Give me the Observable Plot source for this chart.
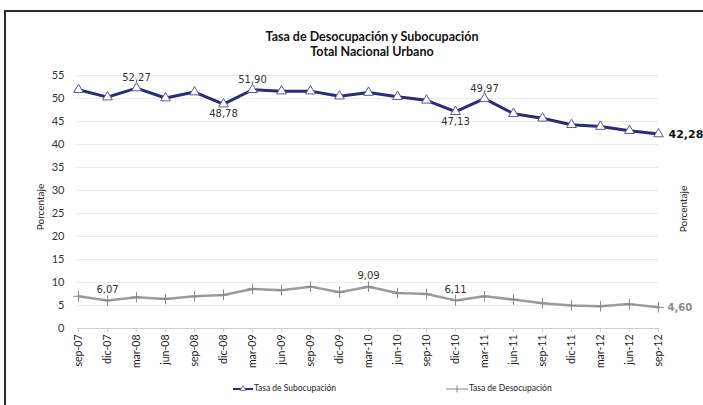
<!DOCTYPE html>
<html><head><meta charset="utf-8">
<script src="https://cdn.jsdelivr.net/npm/d3@7"></script>
<script src="https://cdn.jsdelivr.net/npm/@observablehq/plot@0.6"></script>
<style>
body{margin:0;background:#fff;}
#wrap{position:relative;width:703px;height:405px;overflow:hidden;background:#fff;font-family:Lato,"Liberation Sans",sans-serif;}
#chart{position:absolute;left:0;top:0;}
#frame{position:absolute;left:4px;top:10px;width:760px;height:460px;border-top:2.5px solid #2a2a2a;border-left:2.5px solid #2a2a2a;pointer-events:none;}
#title{position:absolute;left:172px;top:29px;width:400px;text-align:center;font-weight:bold;font-size:12.5px;line-height:15px;color:#111;}
.ylab{position:absolute;width:80px;text-align:center;font-size:10px;line-height:12px;color:#222;transform:rotate(-90deg);}
.leg{position:absolute;display:flex;align-items:center;font-size:8.5px;color:#222;white-space:nowrap;}
.leg svg{margin-right:1px;}
</style></head><body>
<div id="wrap">
  <div id="chart"></div>
  <div id="frame"></div>
  <div id="title">Tasa de Desocupación y Subocupación<br>Total Nacional Urbano</div>
  <div class="ylab" style="left:0px;top:201px;">Porcentaje</div>
  <div class="ylab" style="left:643px;top:203px;">Porcentaje</div>
  <div class="leg" style="left:233px;top:383px;">
    <svg width="20" height="10"><line x1="0" y1="6" x2="20" y2="6" stroke="#2d2a78" stroke-width="2"/><path d="M10,2.5 L13,7.5 L7,7.5 Z" fill="#fff" stroke="#5a57a0" stroke-width="0.8"/></svg>
    <span>Tasa de Subocupación</span>
  </div>
  <div class="leg" style="left:446px;top:383px;">
    <svg width="22" height="10"><line x1="0" y1="6" x2="22" y2="6" stroke="#a0a0a0" stroke-width="1.3"/><line x1="11" y1="2.5" x2="11" y2="9.5" stroke="#888" stroke-width="1"/></svg>
    <span>Tasa de Desocupación</span>
  </div>
</div>
<script>
const periodos = ["sep-07","dic-07","mar-08","jun-08","sep-08","dic-08","mar-09","jun-09","sep-09","dic-09","mar-10","jun-10","sep-10","dic-10","mar-11","jun-11","sep-11","dic-11","mar-12","jun-12","sep-12"];
const subocupacion = [51.9,50.3,52.27,50.1,51.4,48.78,51.90,51.6,51.6,50.5,51.3,50.4,49.6,47.13,49.97,46.7,45.7,44.3,43.9,43.0,42.28];
const desocupacion = [7.0,6.07,6.8,6.4,7.0,7.3,8.6,8.3,9.1,7.9,9.09,7.7,7.5,6.11,7.0,6.3,5.5,5.0,4.85,5.3,4.60];
const yTicks = [0,5,10,15,20,25,30,35,40,45,50,55];
const subEtiquetasArriba = ["mar-08","mar-09","mar-11"];
const subEtiquetasAbajo = ["dic-08","dic-10"];
const desEtiquetasArriba = ["dic-07","mar-10","dic-10"];
const ultimo = "sep-12";

const rows = periodos.map((p, i) => ({p, sub: subocupacion[i], des: desocupacion[i]}));
const fmt = v => v.toFixed(2).replace(".", ",");
const pick = list => rows.filter(d => list.includes(d.p));
const labelFont = "DejaVu Sans";

const chart = Plot.plot({
  width: 703, height: 405,
  marginLeft: 77, marginRight: 45, marginTop: 75, marginBottom: 77,
  x: {type: "point", domain: periodos, padding: 0, label: null},
  y: {domain: [0, 55], label: null},
  style: {fontFamily: "Lato, 'Liberation Sans', sans-serif", background: "transparent", overflow: "visible"},
  marks: [
    Plot.ruleY(yTicks.filter(t => t > 0), {stroke: "#ebebeb", strokeWidth: 1}),
    Plot.ruleY([0], {stroke: "#cfcfcf", strokeWidth: 1}),
    Plot.axisY({ticks: yTicks, tickSize: 0, tickPadding: 13, fontSize: 11, fill: "#333", label: null}),
    Plot.axisX({tickRotate: -90, tickSize: 4, tickPadding: 2, stroke: "#cfcfcf", fill: "#1a1a1a", fontSize: 10.5, label: null}),
    Plot.line(rows, {x: "p", y: "des", stroke: "#9c9c9c", strokeWidth: 2.5}),
    Plot.dot(rows, {x: "p", y: "des", symbol: "plus", stroke: "#8a8a8a", r: 3.5, strokeWidth: 1}),
    Plot.line(rows, {x: "p", y: "sub", stroke: "#2d2a78", strokeWidth: 3}),
    Plot.dot(rows, {x: "p", y: "sub", symbol: "triangle", fill: "white", stroke: "#5a57a0", r: 3.6, strokeWidth: 1}),
    Plot.text(pick(subEtiquetasArriba), {x: "p", y: "sub", text: d => fmt(d.sub), dy: -10, fontSize: 10, fontFamily: labelFont, fill: "#333"}),
    Plot.text(pick(subEtiquetasAbajo), {x: "p", y: "sub", text: d => fmt(d.sub), dy: 10, fontSize: 10, fontFamily: labelFont, fill: "#333"}),
    Plot.text(pick(desEtiquetasArriba), {x: "p", y: "des", text: d => fmt(d.des), dy: -11, fontSize: 10, fontFamily: labelFont, fill: "#333"}),
    Plot.text(pick([ultimo]), {x: "p", y: "sub", text: d => fmt(d.sub), dx: 10, textAnchor: "start", fontSize: 11, fontWeight: "bold", fontFamily: labelFont, fill: "#111"}),
    Plot.text(pick([ultimo]), {x: "p", y: "des", text: d => fmt(d.des), dx: 9, textAnchor: "start", fontSize: 10, fontWeight: "bold", fontFamily: labelFont, fill: "#8a8a8a"})
  ]
});
document.getElementById("chart").appendChild(chart);
</script>
</body></html>
